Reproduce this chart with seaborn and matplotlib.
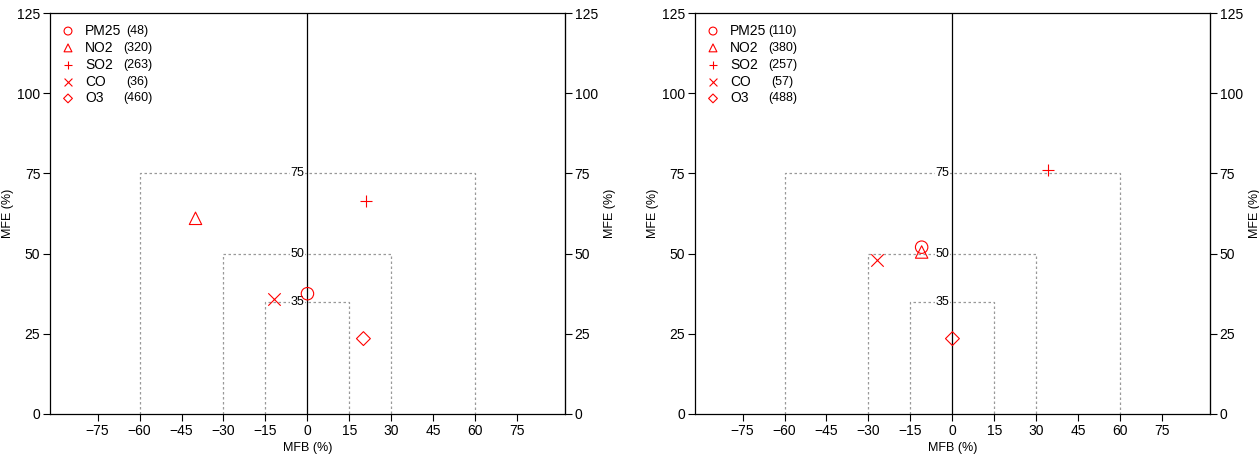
import matplotlib
matplotlib.use("Agg")
import matplotlib.pyplot as plt
import seaborn as sns
import pandas as pd

sns.set_style("white")
plt.rcParams['font.family'] = ['Liberation Sans', 'DejaVu Sans']
plt.rcParams['text.color'] = 'black'
plt.rcParams['xtick.color'] = 'black'
plt.rcParams['ytick.color'] = 'black'
plt.rcParams['axes.labelcolor'] = 'black'

species = ["PM25", "NO2", "SO2", "CO", "O3"]
markers = ["o", "^", "+", "x", "D"]
left_mfb = [0, -40, 21, -12, 20]
left_mfe = [37.5, 61, 66.5, 36, 23.5]
left_n = [48, 320, 263, 36, 460]
right_mfb = [-11, -11, 34, -27, 0]
right_mfe = [52, 50.5, 76, 48, 23.5]
right_n = [110, 380, 257, 57, 488]
xticks = [-75, -60, -45, -30, -15, 0, 15, 30, 45, 60, 75]
yticks = [0, 25, 50, 75, 100, 125]
boxes = [(60, 75), (30, 50), (15, 35)]

fig = plt.figure(figsize=(12.59, 4.66), dpi=100)
axes = [fig.add_axes([0.0397, 0.1116, 0.409, 0.8605]),
        fig.add_axes([0.552, 0.1116, 0.409, 0.8605])]

for ax, mfb, mfe, ns in zip(axes, [left_mfb, right_mfb], [left_mfe, right_mfe], [left_n, right_n]):
    for hx, hy in boxes:
        ax.plot([-hx, -hx, hx, hx], [0, hy, hy, 0], ls=(0, (2, 2)), color="#999999", lw=0.9, zorder=1)
        ax.text(-1, hy, str(hy), ha="right", va="center", fontsize=9,
                bbox=dict(facecolor="white", edgecolor="none", pad=0.5), zorder=2)
    ax.axvline(0, color="black", lw=0.9, zorder=1)
    df = pd.DataFrame({"MFB": mfb, "MFE": mfe, "sp": species})
    for sp, m in zip(species, markers):
        sub = df[df.sp == sp]
        filled = m in ("+", "x")
        sns.scatterplot(data=sub, x="MFB", y="MFE", ax=ax, marker=m,
                        s=80 if m != "D" else 50,
                        facecolor="red" if filled else "none",
                        edgecolor="red", color="red", linewidth=0.8, zorder=3)
    for i, (sp, m, n) in enumerate(zip(species, markers, ns)):
        yy = 0.955 - i * 0.042
        filled = m in ("+", "x")
        ax.scatter([0.035], [yy], transform=ax.transAxes, marker=m, s=32 if m != "D" else 20,
                   facecolor="red" if filled else "none", edgecolor="red", color="red", linewidth=0.8)
        ax.text(0.068, yy, sp, transform=ax.transAxes, va="center", fontsize=10)
        ax.text(0.17, yy, f"({n})", transform=ax.transAxes, va="center", ha="center", fontsize=9)
    ax.set_xlim(-92, 92)
    ax.set_ylim(0, 125)
    ax.set_xticks(xticks)
    ax.set_xticklabels([("\u2212" + str(-t)) if t < 0 else str(t) for t in xticks])
    ax.set_yticks(yticks)
    ax.tick_params(direction="out", length=5, labelsize=10, left=True, bottom=True,
                   right=True, labelright=True, pad=2)
    ax.set_xlabel("MFB (%)", fontsize=9, labelpad=3)
    ax.set_ylabel("MFE (%)", fontsize=9, labelpad=2)
    ax2 = ax.secondary_yaxis("right")
    ax2.set_yticks([])
    ax2.set_ylabel("MFE (%)", fontsize=9, labelpad=28)
    for s in ax.spines.values():
        s.set_color("black")
        s.set_linewidth(0.9)

fig.savefig("out.png", dpi=100)
